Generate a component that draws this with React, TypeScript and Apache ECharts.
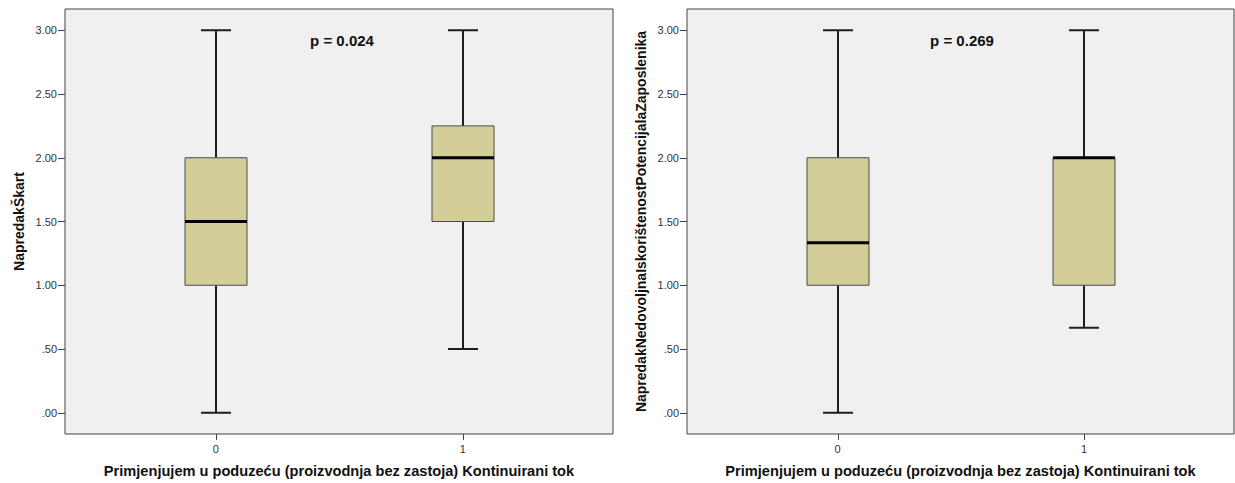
import React, { useEffect, useRef } from "react";
import * as echarts from "echarts";

// ---- data ----
const categories = [0, 1];
const xTitle = "Primjenjujem u poduzeću (proizvodnja bez zastoja) Kontinuirani tok";
const leftYTitle = "NapredakŠkart";
const rightYTitle = "NapredakNedovoljnaIskorištenostPotencijalaZaposlenika";
// [min, Q1, median, Q3, max]
const leftBoxes = [
  [0, 1, 1.5, 2, 3],
  [0.5, 1.5, 2, 2.25, 3],
];
const rightBoxes = [
  [0, 1, 1.3333, 2, 3],
  [0.6667, 1, 2, 2, 3],
];
const pLabels = ["p = 0.024", "p = 0.269"];
const yTicks = [0, 0.5, 1, 1.5, 2, 2.5, 3];

// axis extents
const X_MIN = -0.611;
const X_MAX = 1.608;
const Y_MIN = -0.1667;
const Y_MAX = 3.1667;

const FONT = '"Liberation Sans", Arial, sans-serif';

const fmtY = (v: number) => {
  const s = v.toFixed(2);
  return s.startsWith("0") ? s.slice(1) : s;
};

const tickStyle = { stroke: "#444", lineWidth: 1 };

function renderBox(params: any, api: any) {
  const x = api.value(0);
  const pMin = api.coord([x, api.value(1)]);
  const pQ1 = api.coord([x, api.value(2)]);
  const pMed = api.coord([x, api.value(3)]);
  const pQ3 = api.coord([x, api.value(4)]);
  const pMax = api.coord([x, api.value(5)]);
  const cx = Math.round(pMin[0]);
  const half = 31;
  const cap = 15;
  const whisker = { stroke: "#1e1e1e", lineWidth: 2 };
  return {
    type: "group",
    children: [
      { type: "line", shape: { x1: cx, y1: pQ3[1], x2: cx, y2: pMax[1] }, style: whisker },
      { type: "line", shape: { x1: cx, y1: pQ1[1], x2: cx, y2: pMin[1] }, style: whisker },
      { type: "line", shape: { x1: cx - cap, y1: pMax[1], x2: cx + cap, y2: pMax[1] }, style: whisker },
      { type: "line", shape: { x1: cx - cap, y1: pMin[1], x2: cx + cap, y2: pMin[1] }, style: whisker },
      {
        type: "rect",
        shape: { x: cx - half, y: pQ3[1], width: half * 2, height: pQ1[1] - pQ3[1] },
        style: { fill: "#d3ce97", stroke: "#4a4a4a", lineWidth: 1 },
      },
      {
        type: "line",
        shape: { x1: cx - half, y1: pMed[1], x2: cx + half, y2: pMed[1] },
        style: { stroke: "#000", lineWidth: 3 },
      },
    ],
  };
}

// outside tick marks on the value axis: data [xAtAxis, value]
function renderYTicks(params: any, api: any) {
  const p = api.coord([api.value(0), api.value(1)]);
  const y = Math.round(p[1]) + 0.5;
  return { type: "line", shape: { x1: p[0] - 7, y1: y, x2: p[0], y2: y }, style: tickStyle };
}

// outside tick marks at the category positions: data [category, yAtAxis]
function renderXTicks(params: any, api: any) {
  const p = api.coord([api.value(0), api.value(1)]);
  const x = Math.round(p[0]) + 0.5;
  return { type: "line", shape: { x1: x, y1: p[1], x2: x, y2: p[1] + 6 }, style: tickStyle };
}

export default function App() {
  const ref = useRef<HTMLDivElement>(null);
  useEffect(() => {
    if (!ref.current) return;
    const chart = echarts.init(ref.current, null, { renderer: "svg" });
    const grids = [
      { left: 65, top: 9, width: 548, height: 425 },
      { left: 687, top: 9, width: 547, height: 425 },
    ];
    const mkX = (i: number) => ({
      type: "value",
      gridIndex: i,
      min: X_MIN,
      max: X_MAX,
      axisLine: { show: false, onZero: false },
      splitLine: { show: false },
      axisTick: { show: false },
      axisLabel: {
        customValues: categories,
        color: "#333",
        fontSize: 11,
        fontFamily: FONT,
        margin: 9,
        formatter: (v: number) => String(v),
      },
      name: xTitle,
      nameLocation: "middle",
      nameGap: 29,
      nameTextStyle: { fontSize: 14.6, fontWeight: "bold", color: "#111", fontFamily: FONT },
    });
    const mkY = (i: number, name: string) => ({
      type: "value",
      gridIndex: i,
      min: Y_MIN,
      max: Y_MAX,
      axisLine: { show: false, onZero: false },
      splitLine: { show: false },
      axisTick: { show: false },
      axisLabel: {
        customValues: yTicks,
        color: "#333",
        fontSize: 11,
        fontFamily: FONT,
        margin: 8,
        formatter: fmtY,
      },
      name,
      nameLocation: "middle",
      nameGap: 39,
      nameRotate: 90,
      nameTextStyle: { fontSize: 14, fontWeight: "bold", color: "#111", fontFamily: FONT },
    });
    const boxSeries = (i: number, boxes: number[][]) => ({
      type: "custom",
      xAxisIndex: i,
      yAxisIndex: i,
      renderItem: renderBox,
      encode: { x: 0, y: [1, 2, 3, 4, 5] },
      data: categories.map((c, k) => [c, ...boxes[k]]),
      silent: true,
      z: 3,
    });
    const yTickSeries = (i: number) => ({
      type: "custom",
      xAxisIndex: i,
      yAxisIndex: i,
      renderItem: renderYTicks,
      encode: { x: 0, y: 1 },
      data: yTicks.map((v) => [X_MIN, v]),
      silent: true,
      clip: false,
      z: 2,
    });
    const xTickSeries = (i: number) => ({
      type: "custom",
      xAxisIndex: i,
      yAxisIndex: i,
      renderItem: renderXTicks,
      encode: { x: 0, y: 1 },
      data: categories.map((c) => [c, Y_MIN]),
      silent: true,
      clip: false,
      z: 2,
    });
    chart.setOption({
      animation: false,
      backgroundColor: "#ffffff",
      grid: grids.map((g) => ({
        ...g,
        show: true,
        backgroundColor: "#f0f0f0",
        borderColor: "#444",
        borderWidth: 1,
      })),
      xAxis: [mkX(0), mkX(1)],
      yAxis: [mkY(0, leftYTitle), mkY(1, rightYTitle)],
      series: [
        boxSeries(0, leftBoxes),
        boxSeries(1, rightBoxes),
        yTickSeries(0),
        yTickSeries(1),
        xTickSeries(0),
        xTickSeries(1),
      ],
      graphic: [
        {
          type: "text",
          x: 342,
          y: 40,
          style: {
            text: pLabels[0],
            textAlign: "center",
            textVerticalAlign: "middle",
            font: `bold 15px ${FONT}`,
            fill: "#111",
          },
        },
        {
          type: "text",
          x: 962,
          y: 40,
          style: {
            text: pLabels[1],
            textAlign: "center",
            textVerticalAlign: "middle",
            font: `bold 15px ${FONT}`,
            fill: "#111",
          },
        },
      ],
    });
    return () => chart.dispose();
  }, []);
  return (
    <div
      ref={ref}
      style={{ position: "absolute", left: 0, top: 0, width: 1235, height: 483 }}
    />
  );
}
